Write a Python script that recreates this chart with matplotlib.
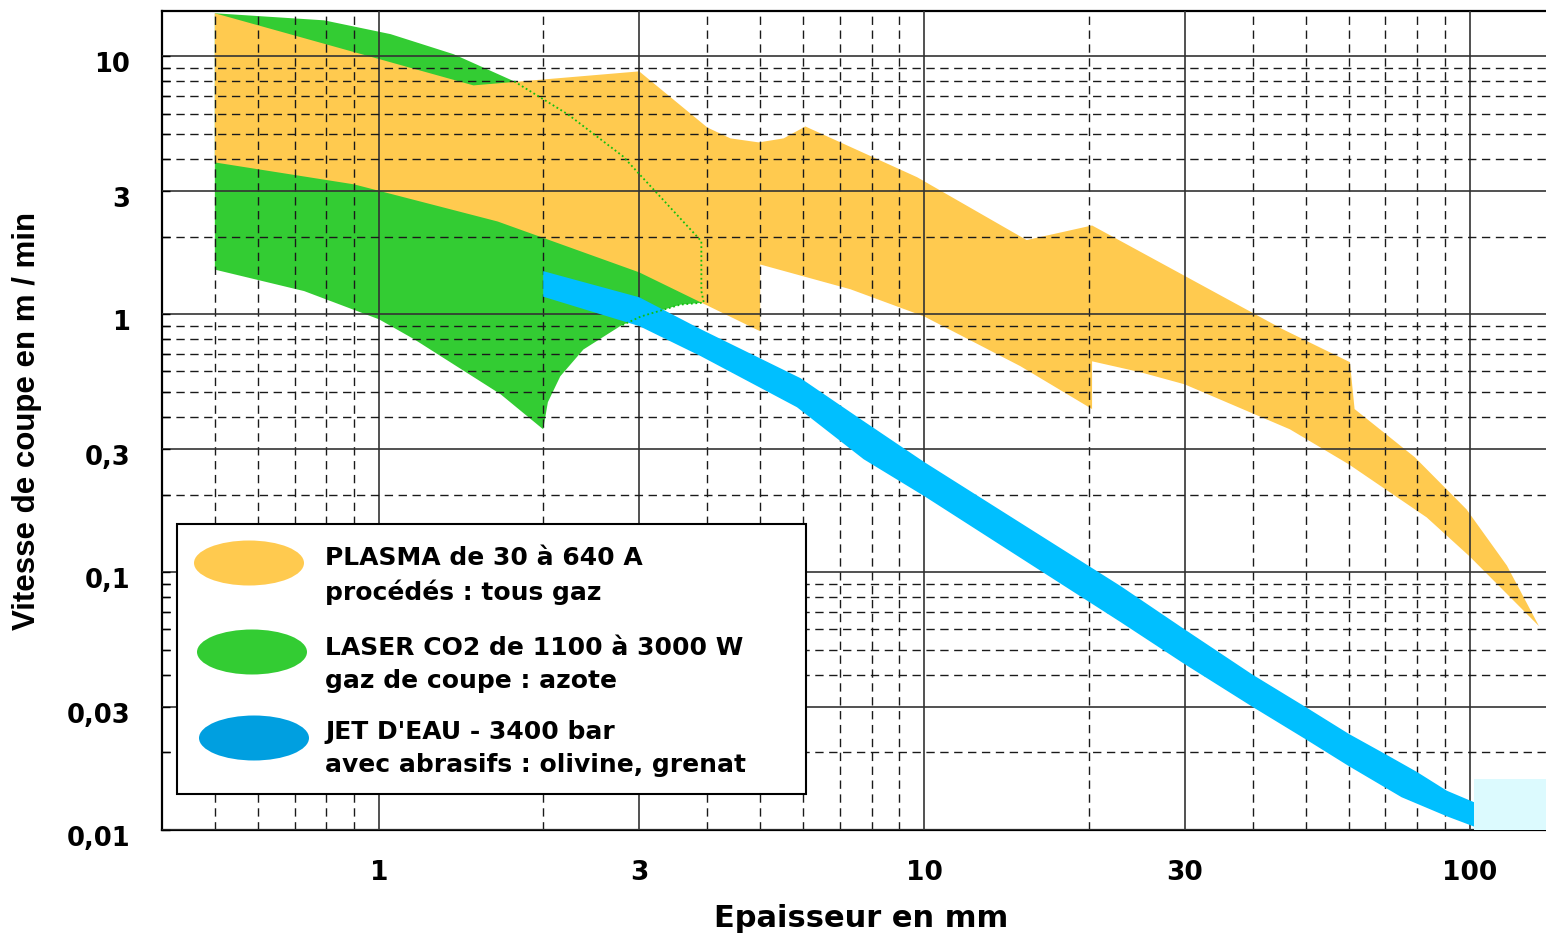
import matplotlib
matplotlib.use("Agg")
import matplotlib.pyplot as plt
import matplotlib.transforms as mtransforms
from matplotlib.patches import Ellipse, Rectangle
from matplotlib.ticker import NullFormatter

# --- data (epaisseur en mm / vitesse en m/min) ---
# plasma band: upper edge left->right, lower edge right->left
plasma_top_x = [0.5, 1.49, 3.0, 4.0, 4.41, 4.97, 5.52, 6.05, 9.7, 15.4, 20.3,
                45.4, 60.3, 61.5, 79.3, 98.7, 117, 134]
plasma_top_y = [14.7, 7.72, 8.75, 5.3, 4.81, 4.64, 4.81, 5.35, 3.4, 1.94, 2.21,
                0.875, 0.652, 0.429, 0.279, 0.175, 0.106, 0.0617]
plasma_low_x = [100, 83.4, 60, 46.8, 30, 24.9, 20.3, 20.3, 15, 10, 7.32,
                5.0, 5.0, 3.0, 1.65, 0.9, 0.5]
plasma_low_y = [0.115, 0.163, 0.262, 0.358, 0.535, 0.596, 0.657, 0.429, 0.629,
                0.98, 1.25, 1.56, 0.859, 1.454, 2.29, 3.19, 3.88]

# laser CO2 zone, walked around its outline
laser_x = [0.5, 0.793, 1.05, 1.37, 1.77, 2.22, 2.8, 3.9, 3.9, 3.94,
           3.57, 3.02, 2.77, 2.37, 2.15, 2.04, 2.0, 1.67, 1.16, 1.0, 0.729, 0.5]
laser_y = [14.7, 13.8, 12.2, 10.2, 8.0, 5.96, 4.1, 1.92, 1.23, 1.11,
           1.09, 0.98, 0.90, 0.73, 0.575, 0.456, 0.358, 0.49, 0.80, 0.956, 1.23, 1.49]
hidden_edge = slice(4, 13)   # part of the laser outline drawn dotted

# jet d'eau band
jet_top_x = [2.0, 3.0, 3.89, 5.93, 7.64, 10, 22.9, 30, 40, 50, 60, 70, 80, 90.8, 102]
jet_top_y = [1.47, 1.164, 0.875, 0.565, 0.392, 0.267, 0.0883, 0.060, 0.040,
             0.030, 0.0236, 0.0197, 0.0168, 0.0142, 0.0128]
jet_low_x = [102, 90.8, 75, 60, 50, 40, 30, 22.9, 10, 7.74, 5.84, 3.89, 3.0, 2.0]
jet_low_y = [0.0103, 0.0113, 0.0134, 0.0177, 0.0225, 0.030, 0.044, 0.064,
             0.197, 0.274, 0.436, 0.688, 0.90, 1.17]

# pale zone at the far right
pale_x = (102, 160)
pale_y = (0.01, 0.0158)

x_major = [1, 3, 10, 30, 100]
x_labels = ["1", "3", "10", "30", "100"]
x_minor = [0.5, 0.6, 0.7, 0.8, 0.9, 2, 4, 5, 6, 7, 8, 9, 20, 40, 50, 60, 70, 80, 90]
y_major = [0.01, 0.03, 0.1, 0.3, 1, 3, 10]
y_labels = ["0,01", "0,03", "0,1", "0,3", "1", "3", "10"]
y_minor = [m * d for d in (0.01, 0.1, 1) for m in (2, 4, 5, 6, 7, 8, 9)]

legend_lines = [("PLASMA de 30 à 640 A", "procédés : tous gaz"),
                ("LASER CO2 de 1100 à 3000 W", "gaz de coupe : azote"),
                ("JET D'EAU - 3400 bar", "avec abrasifs : olivine, grenat")]

ORANGE = "#FFCA4F"
GREEN = "#33CC33"
BLUE = "#00BFFF"
BLUE_KEY = "#009FE0"
PALE = "#DCFAFE"

W, H = 1546, 937
plt.rcParams["font.family"] = "DejaVu Sans"
plt.rcParams["font.weight"] = "bold"

fig = plt.figure(figsize=(W / 100, H / 100), dpi=100)
ax = fig.add_axes([162 / W, 1 - 831 / H, (W - 162) / W, (831 - 12) / H])
ax.set_xscale("log")
ax.set_yscale("log")
ax.set_xlim(0.4, 138)
ax.set_ylim(0.01, 15)

# --- zones ---
ax.fill(laser_x, laser_y, color=GREEN, lw=0, zorder=1)
ax.fill(plasma_top_x + plasma_low_x, plasma_top_y + plasma_low_y,
        color=ORANGE, lw=0, zorder=1.2)
ax.fill(jet_top_x + jet_low_x, jet_top_y + jet_low_y, color=BLUE, lw=0, zorder=3)
ax.add_patch(Rectangle((pale_x[0], pale_y[0]), pale_x[1] - pale_x[0],
                       pale_y[1] - pale_y[0], color=PALE, lw=0, zorder=3))
ax.plot(laser_x[hidden_edge], laser_y[hidden_edge], color="#10C010",
        lw=1.3, ls=(0, (1, 1.5)), zorder=4)

# --- grid ---
ax.set_xticks(x_major)
ax.set_xticklabels(x_labels)
ax.set_xticks(x_minor, minor=True)
ax.xaxis.set_minor_formatter(NullFormatter())
ax.set_yticks(y_major)
ax.set_yticklabels(y_labels)
ax.set_yticks(y_minor, minor=True)
ax.yaxis.set_minor_formatter(NullFormatter())
ax.set_axisbelow(False)
ax.grid(which="major", color="#333333", lw=1.2, ls="-")
ax.grid(which="minor", color="#1a1a1a", lw=1.0, ls=(0, (6, 4)))

ax.tick_params(axis="x", which="both", length=0, pad=21, labelsize=19)
ax.tick_params(axis="y", which="both", direction="in", length=6, width=1,
               pad=23, labelsize=18.5)
offset = mtransforms.ScaledTranslation(0, -5 / 100, fig.dpi_scale_trans)
for t in ax.yaxis.get_major_ticks():
    t.label1.set_transform(t.label1.get_transform() + offset)

for side in ("left", "bottom", "top"):
    ax.spines[side].set_linewidth(1.6)
ax.spines["right"].set_visible(False)

fig.text(861 / W, 1 - 919 / H, "Epaisseur en mm", fontsize=22,
         ha="center", va="center")
fig.text(27 / W, 1 - 421 / H, "Vitesse de coupe en m / min", rotation=90,
         family=["Liberation Sans Narrow", "Liberation Sans"], fontsize=22.5,
         ha="center", va="center")

# --- legend box ---
def fx(px):
    return px / W


def fy(py):
    return 1 - py / H


fig.add_artist(Rectangle((fx(177), fy(795)), fx(806) - fx(177), fy(525) - fy(795),
                         transform=fig.transFigure, facecolor="white",
                         edgecolor="black", lw=1.5, zorder=5))
key_colors = [ORANGE, GREEN, BLUE_KEY]
key_centres = [(249, 564), (252, 653), (254, 739)]
baselines = [(565, 600), (655, 688), (739, 772)]
for (l1, l2), c, (cx, cy), (b1, b2) in zip(legend_lines, key_colors,
                                            key_centres, baselines):
    fig.add_artist(Ellipse((fx(cx), fy(cy)), 110 / W, 45 / H,
                           transform=fig.transFigure, color=c, lw=0, zorder=6))
    fig.text(fx(325), fy(b1), l1, fontsize=18, va="baseline", zorder=7)
    fig.text(fx(325), fy(b2), l2, fontsize=18, va="baseline", zorder=7)

fig.savefig("out.png", dpi=100)
